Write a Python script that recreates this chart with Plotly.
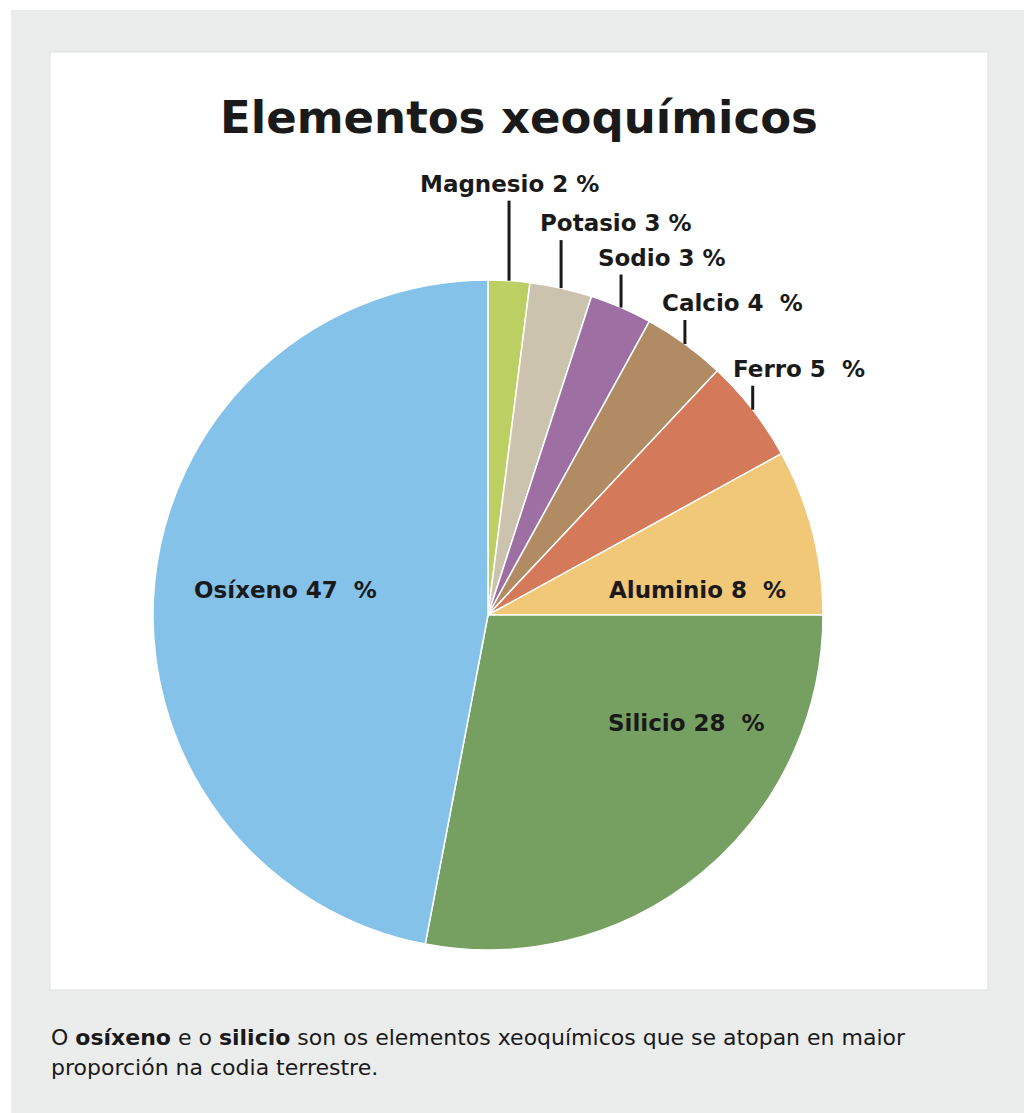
import math
import plotly.graph_objects as go

# ---- data ----
elements = ["Magnesio", "Potasio", "Sodio", "Calcio", "Ferro", "Aluminio", "Silicio", "Osíxeno"]
percent = [2, 3, 3, 4, 5, 8, 28, 47]
label_text = ["Magnesio 2 %", "Potasio 3 %", "Sodio 3 %", "Calcio 4  %", "Ferro 5  %",
              "Aluminio 8  %", "Silicio 28  %", "Osíxeno 47  %"]
colors = ["#bccf63", "#cbc3ad", "#9d6fa3", "#b08b64", "#d47a5a", "#f0c878", "#75a061", "#84c2ea"]
title = "Elementos xeoquímicos"
caption1 = "O <b>osíxeno</b> e o <b>silicio</b> son os elementos xeoquímicos que se atopan en maior"
caption2 = "proporción na codia terrestre."

# ---- layout / style ----
OFF = 8                              # page body margin of the HTML page
W, H = 1032 - OFF, 1113 - OFF
CX, CY, R = 488, 615, 335            # pie centre and radius in window pixels
outside = {"Magnesio": (80, 0), "Potasio": (48, 55), "Sodio": (33, 41),
           "Calcio": (24, 48), "Ferro": (24, 46)}       # leader length, text dx
inside = {"Aluminio": (209, -25), "Silicio": (198, 108), "Osíxeno": (-203, -25)}
LABEL_FONT = dict(family="DejaVu Sans", size=23, color="#1a1a1a")
CAPTION_FONT = dict(family="DejaVu Sans", size=22, color="#1a1a1a")

def px(x):
    return (x - OFF) / W

def py(y):
    return 1 - (y - OFF) / H

fig = go.Figure(go.Pie(
    labels=elements, values=percent, sort=False, direction="clockwise", rotation=0,
    marker=dict(colors=colors, line=dict(color="white", width=1.5)),
    textinfo="none", hoverinfo="label+percent", showlegend=False,
    domain=dict(x=[px(CX - R), px(CX + R)], y=[py(CY + R), py(CY - R)]),
))

shapes = [
    dict(type="rect", xref="paper", yref="paper", x0=px(11), x1=1.01, y0=-0.01, y1=py(10),
         fillcolor="#ebecec", line=dict(width=0), layer="below"),
    dict(type="rect", xref="paper", yref="paper", x0=px(50), x1=px(988), y0=py(990), y1=py(52),
         fillcolor="white", line=dict(color="#e0e1e1", width=1), layer="below"),
]
annotations = [
    dict(text=f"<b>{title}</b>", x=px(519), y=py(118), xref="paper", yref="paper",
         showarrow=False, font=dict(family="DejaVu Sans", size=45, color="#1a1a1a"),
         xanchor="center", yanchor="middle"),
    dict(text=caption1, x=px(49), y=py(1037), xref="paper", yref="paper", showarrow=False,
         font=CAPTION_FONT, xanchor="left", yanchor="middle"),
    dict(text=caption2, x=px(49), y=py(1067), xref="paper", yref="paper", showarrow=False,
         font=CAPTION_FONT, xanchor="left", yanchor="middle"),
]

total = sum(percent)
cum = 0
for name, val, txt in zip(elements, percent, label_text):
    mid = (cum + val / 2) / total * 2 * math.pi
    cum += val
    if name in outside:
        length, dx = outside[name]
        ex = CX + R * math.sin(mid)
        ey = CY - R * math.cos(mid)
        top = ey - length
        shapes.append(dict(type="line", xref="paper", yref="paper",
                           x0=px(ex), x1=px(ex), y0=py(ey), y1=py(top),
                           line=dict(color="#1a1a1a", width=3)))
        annotations.append(dict(text=f"<b>{txt}</b>", x=px(ex + dx), y=py(top - 2),
                                xref="paper", yref="paper", showarrow=False,
                                xanchor="center", yanchor="bottom", font=LABEL_FONT))
    else:
        ox, oy = inside[name]
        annotations.append(dict(text=f"<b>{txt}</b>", x=px(CX + ox), y=py(CY + oy),
                                xref="paper", yref="paper", showarrow=False,
                                xanchor="center", yanchor="middle", font=LABEL_FONT))

fig.update_layout(width=W, height=H, margin=dict(l=0, r=0, t=0, b=0),
                  paper_bgcolor="white", plot_bgcolor="white",
                  shapes=shapes, annotations=annotations)
fig.write_html("out.html")
